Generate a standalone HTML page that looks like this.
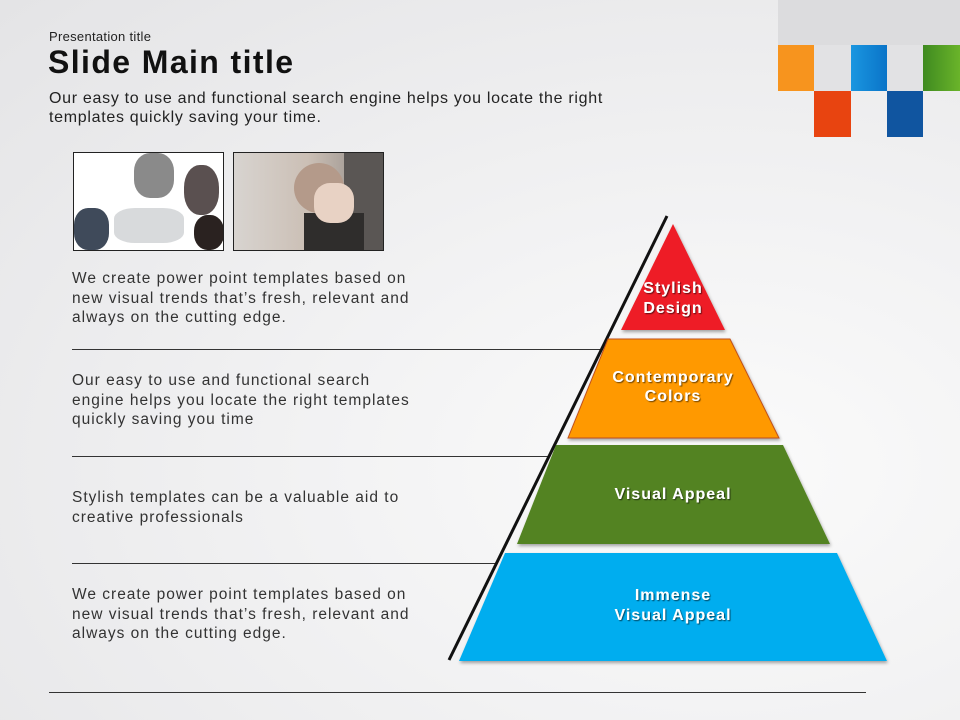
<!DOCTYPE html>
<html><head><meta charset="utf-8"><style>
body{margin:0;width:960px;height:720px;overflow:hidden;position:relative;font-family:"Liberation Sans","DejaVu Sans",sans-serif;
background:radial-gradient(ellipse at 75% 65%,#fbfbfb 0%,#f2f2f3 40%,#e4e4e6 100%);color:#222}
.a{position:absolute;white-space:nowrap}
.t{font-size:15.5px;line-height:19.5px;color:#333;letter-spacing:1px}
.line{position:absolute;height:1px;background:#333}
</style></head><body>
<div class="a" style="left:49px;top:29px;font-size:13px;color:#222;letter-spacing:0.3px">Presentation title</div>
<div class="a" style="left:48px;top:44px;font-size:32px;font-weight:bold;color:#111;letter-spacing:1.4px">Slide Main title</div>
<div class="a" style="left:49px;top:89px;font-size:16px;line-height:19px;color:#222;letter-spacing:0.7px">Our easy to use and functional search engine helps you locate the right<br>templates quickly saving your time.</div>

<div class="a" style="left:73px;top:152px;width:149px;height:97px;border:1px solid #222;background:#fff;overflow:hidden">
<div class="a" style="left:60px;top:0;width:40px;height:45px;background:#8a8a8a;border-radius:40%"></div>
<div class="a" style="left:110px;top:12px;width:35px;height:50px;background:#5a5050;border-radius:45%"></div>
<div class="a" style="left:0;top:55px;width:35px;height:42px;background:#3f4a5a;border-radius:40%"></div>
<div class="a" style="left:120px;top:62px;width:30px;height:35px;background:#2a2220;border-radius:45%"></div>
<div class="a" style="left:40px;top:55px;width:70px;height:35px;background:#d8dadc;border-radius:30%"></div>
</div>
<div class="a" style="left:233px;top:152px;width:149px;height:97px;border:1px solid #222;overflow:hidden;background:linear-gradient(90deg,#d8d4d0,#cbbfb5 50%,#8a8480)">
<div class="a" style="left:60px;top:10px;width:50px;height:50px;background:#b49a8a;border-radius:50%"></div>
<div class="a" style="left:110px;top:0;width:40px;height:97px;background:#5a5654"></div>
<div class="a" style="left:70px;top:60px;width:60px;height:37px;background:#2f2d2c"></div>
<div class="a" style="left:80px;top:30px;width:40px;height:40px;background:#e8d2c4;border-radius:40%"></div>
</div>

<div class="a t" style="left:72px;top:269px">We create power point templates based on<br>new visual trends that’s fresh, relevant and<br>always on the cutting edge.</div>
<div class="a t" style="left:72px;top:371px">Our easy to use and functional search<br>engine helps you locate the right templates<br>quickly saving you time</div>
<div class="a t" style="left:72px;top:488px">Stylish templates can be a valuable aid to<br>creative professionals</div>
<div class="a t" style="left:72px;top:585px">We create power point templates based on<br>new visual trends that’s fresh, relevant and<br>always on the cutting edge.</div>

<div class="line" style="left:72px;top:349px;width:531px"></div>
<div class="line" style="left:72px;top:456px;width:478px"></div>
<div class="line" style="left:72px;top:563px;width:425px"></div>
<div class="line" style="left:49px;top:692px;width:817px"></div>

<div class="a" style="left:778px;top:0;width:182px;height:45px;background:#dcdcde"></div>
<div class="a" style="left:778px;top:45px;width:36px;height:46px;background:#f7941e"></div>
<div class="a" style="left:814px;top:45px;width:37px;height:46px;background:#e2e2e4"></div>
<div class="a" style="left:851px;top:45px;width:36px;height:46px;background:linear-gradient(90deg,#1a96e0,#0a74c8)"></div>
<div class="a" style="left:887px;top:45px;width:36px;height:46px;background:#e2e2e4"></div>
<div class="a" style="left:923px;top:45px;width:37px;height:46px;background:linear-gradient(90deg,#3f8a20,#6ab42a)"></div>
<div class="a" style="left:814px;top:91px;width:37px;height:46px;background:#e84410"></div>
<div class="a" style="left:887px;top:91px;width:36px;height:46px;background:#1055a0"></div>

<svg class="a" style="left:0;top:0" width="960" height="720">
<defs><filter id="s" x="-10%" y="-10%" width="120%" height="130%"><feDropShadow dx="1" dy="2" stdDeviation="1.5" flood-opacity="0.35"/></filter>
<filter id="ts"><feDropShadow dx="1" dy="1" stdDeviation="0.6" flood-opacity="0.6"/></filter></defs>
<line x1="667" y1="216" x2="449" y2="660" stroke="#111" stroke-width="3"/>
<polygon points="673,224 725,330 621,330" fill="#ee1c25" filter="url(#s)"/>
<polygon points="608,339 730,339 779,438 568,438" fill="#ff9900" stroke="#c0501a" stroke-width="1" filter="url(#s)"/>
<polygon points="556,445 783,445 830,544 517,544" fill="#538320" filter="url(#s)"/>
<polygon points="505,553 837,553 887,661 459,661" fill="#00adef" filter="url(#s)"/>
<g font-family="Liberation Sans, sans-serif" font-weight="bold" font-size="16" fill="#fff" text-anchor="middle" filter="url(#ts)" letter-spacing="1">
<text x="673" y="293">Stylish</text><text x="673" y="313">Design</text>
<text x="673" y="382">Contemporary</text><text x="673" y="401">Colors</text>
<text x="673" y="499">Visual Appeal</text>
<text x="673" y="600">Immense</text><text x="673" y="620">Visual Appeal</text>
</g>
</svg>
</body></html>
